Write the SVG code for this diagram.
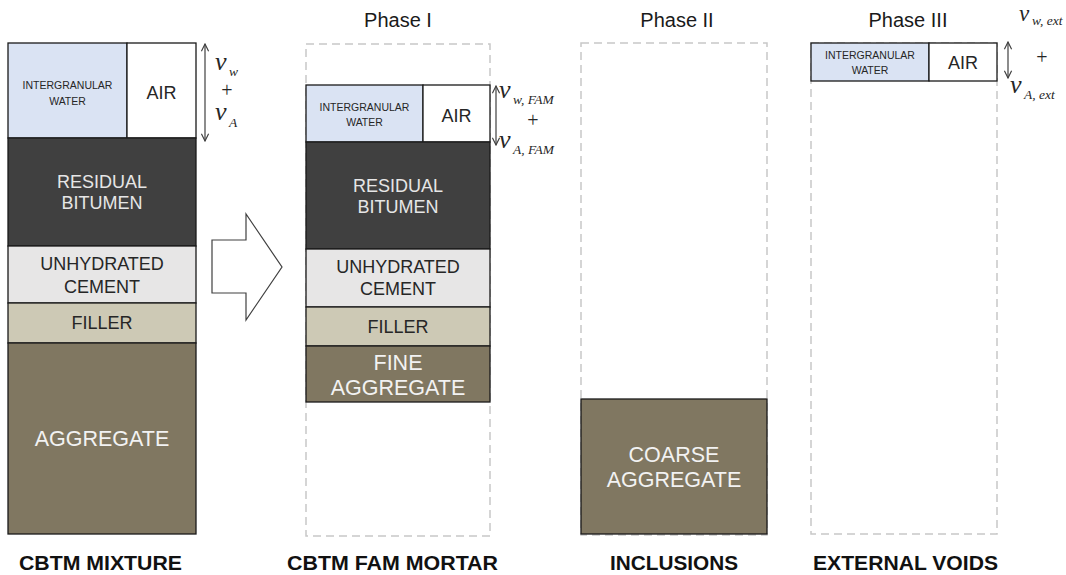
<svg xmlns="http://www.w3.org/2000/svg" width="1066" height="575" viewBox="0 0 1066 575">
<defs>
<style>
.ln{stroke:#1a1a1a;stroke-width:1.3}
.water{fill:#dae3f3}
.air{fill:#ffffff}
.bit{fill:#404040}
.cem{fill:#e7e6e6}
.fil{fill:#cdc9b5}
.agg{fill:#807761}
.dash{fill:none;stroke:#c8c8c8;stroke-width:1.5;stroke-dasharray:8 5}
text{font-family:"Liberation Sans",Arial,sans-serif;text-anchor:middle}
.sm{font-size:10.5px;fill:#262626}
.md{font-size:18px;fill:#262626}
.mdw{font-size:18px;fill:#e6e6e6}
.lg{font-size:21.5px;fill:#f2f2f2}
.ttl{font-size:20px;fill:#1a1a1a}
.bot{font-size:20px;font-weight:bold;fill:#111}
.mv{font-family:"Liberation Serif","Times New Roman",serif;font-style:italic;font-size:26px;fill:#262626;text-anchor:start}
.ms{font-family:"Liberation Serif","Times New Roman",serif;font-style:italic;font-size:13.5px;fill:#262626;text-anchor:start}
.mp{font-family:"Liberation Serif","Times New Roman",serif;font-size:20px;fill:#262626}
.dbl{stroke:#404040;stroke-width:1.2;fill:none}
</style>
<marker id="chev" viewBox="0 0 10 10" refX="9" refY="5" markerWidth="9" markerHeight="9" markerUnits="userSpaceOnUse" orient="auto-start-reverse">
<path d="M1,1 L9,5 L1,9" fill="none" stroke="#404040" stroke-width="1.3"/>
</marker>
</defs>
<rect width="1066" height="575" fill="#ffffff"/>

<g id="titles">
<text class="ttl" x="398" y="27">Phase I</text>
<text class="ttl" x="677" y="27">Phase II</text>
<text class="ttl" x="908" y="27">Phase III</text>
</g>

<g id="cbtm-mixture">
<rect class="water ln" x="8" y="43" width="119" height="95"/>
<rect class="air ln" x="127" y="43" width="69" height="95"/>
<rect class="bit ln" x="8" y="138" width="188" height="108"/>
<rect class="cem ln" x="8" y="246" width="188" height="57"/>
<rect class="fil ln" x="8" y="303" width="188" height="40"/>
<rect class="agg ln" x="8" y="343" width="188" height="191"/>
<text class="sm" x="67.5" y="89">INTERGRANULAR</text>
<text class="sm" x="67.5" y="105">WATER</text>
<text class="md" x="161.5" y="98.5">AIR</text>
<text class="mdw" x="102" y="187.5">RESIDUAL</text>
<text class="mdw" x="102" y="208.5">BITUMEN</text>
<text class="md" x="102" y="269.5">UNHYDRATED</text>
<text class="md" x="102" y="293">CEMENT</text>
<text class="md" x="102" y="328.5">FILLER</text>
<text class="lg" x="102" y="446">AGGREGATE</text>
<text class="bot" x="100.5" y="570" textLength="163" lengthAdjust="spacingAndGlyphs">CBTM MIXTURE</text>
</g>

<g id="cbtm-fam-mortar">
<rect class="dash" x="306" y="44" width="184" height="492"/>
<rect class="water ln" x="306" y="85" width="117" height="57"/>
<rect class="air ln" x="423" y="85" width="67" height="57"/>
<rect class="bit ln" x="306" y="142" width="184" height="107"/>
<rect class="cem ln" x="306" y="249" width="184" height="58"/>
<rect class="fil ln" x="306" y="307" width="184" height="39"/>
<rect class="agg ln" x="306" y="346" width="184" height="56"/>
<text class="sm" x="364.5" y="111">INTERGRANULAR</text>
<text class="sm" x="364.5" y="126">WATER</text>
<text class="md" x="456.5" y="121.5">AIR</text>
<text class="mdw" x="398" y="191.5">RESIDUAL</text>
<text class="mdw" x="398" y="212.5">BITUMEN</text>
<text class="md" x="398" y="273">UNHYDRATED</text>
<text class="md" x="398" y="295">CEMENT</text>
<text class="md" x="398" y="332.5">FILLER</text>
<text class="lg" x="398" y="369.5">FINE</text>
<text class="lg" x="398" y="394.5">AGGREGATE</text>
<text class="bot" x="392.5" y="570" textLength="211" lengthAdjust="spacingAndGlyphs">CBTM FAM MORTAR</text>
</g>

<g id="inclusions">
<rect class="dash" x="581" y="43" width="186" height="492"/>
<rect class="agg ln" x="581" y="399" width="186" height="135"/>
<text class="lg" x="674" y="461.5">COARSE</text>
<text class="lg" x="674" y="486.5">AGGREGATE</text>
<text class="bot" x="674" y="570" textLength="128" lengthAdjust="spacingAndGlyphs">INCLUSIONS</text>
</g>

<g id="external-voids">
<rect class="dash" x="811" y="43" width="186" height="491"/>
<rect class="water ln" x="811" y="43" width="118" height="38"/>
<rect class="air ln" x="929" y="43" width="68" height="38"/>
<text class="sm" x="870" y="59">INTERGRANULAR</text>
<text class="sm" x="870" y="74">WATER</text>
<text class="md" x="963" y="68.5">AIR</text>
<text class="bot" x="905.5" y="570" textLength="185" lengthAdjust="spacingAndGlyphs">EXTERNAL VOIDS</text>
</g>

<g id="volume-labels">
<text class="mv" x="215" y="70">v</text>
<text class="ms" x="229" y="76">w</text>
<text class="mp" x="227" y="97">+</text>
<text class="mv" x="215" y="120">v</text>
<text class="ms" x="229" y="127">A</text>

<text class="mv" x="499" y="98">v</text>
<text class="ms" x="513" y="104">w, FAM</text>
<text class="mp" x="533" y="127">+</text>
<text class="mv" x="499" y="148">v</text>
<text class="ms" x="513" y="154">A, FAM</text>

<text class="mv" x="1019" y="21" style="font-size:23px">v</text>
<text class="ms" x="1032" y="25">w, ext</text>
<text class="mp" x="1042" y="64">+</text>
<text class="mv" x="1010" y="93">v</text>
<text class="ms" x="1024" y="99">A, ext</text>
</g>

<g id="connectors">
<polygon points="212,240 246,240 246,214 282,267 246,320 246,293 212,293" fill="#ffffff" stroke="#404040" stroke-width="1.2"/>
<line class="dbl" x1="205" y1="44" x2="205" y2="141" marker-start="url(#chev)" marker-end="url(#chev)"/>
<line class="dbl" x1="496" y1="86" x2="496" y2="145" marker-start="url(#chev)" marker-end="url(#chev)"/>
<line class="dbl" x1="1008" y1="42" x2="1008" y2="78" marker-start="url(#chev)" marker-end="url(#chev)"/>
</g>
</svg>
